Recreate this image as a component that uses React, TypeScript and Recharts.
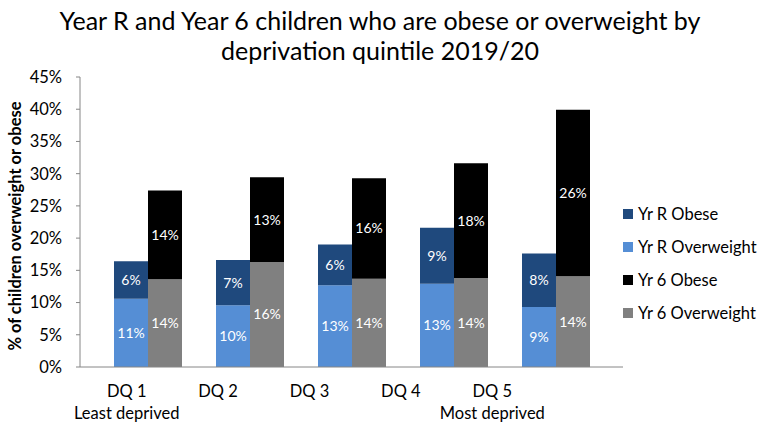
import React from 'react';
import { BarChart, Bar, XAxis, YAxis, LabelList } from 'recharts';

const quintiles = ['DQ 1', 'DQ 2', 'DQ 3', 'DQ 4', 'DQ 5'];
const subLabels = ['Least deprived', '', '', '', 'Most deprived'];
const yrROverweight = [10.6, 9.6, 12.7, 12.9, 9.3];
const yrRObese = [5.8, 7.0, 6.3, 8.7, 8.3];
const yr6Overweight = [13.6, 16.3, 13.7, 13.8, 14.1];
const yr6Obese = [13.8, 13.15, 15.6, 17.8, 25.8];
const yTicks = [0, 5, 10, 15, 20, 25, 30, 35, 40, 45];

const legendItems = [
  { name: 'Yr R Obese', color: '#1f497d' },
  { name: 'Yr R Overweight', color: '#558ed5' },
  { name: 'Yr 6 Obese', color: '#000000' },
  { name: 'Yr 6 Overweight', color: '#808080' },
];

const data = quintiles.map((dq, i) => ({
  dq,
  rOw: yrROverweight[i],
  rOb: yrRObese[i],
  sOw: yr6Overweight[i],
  sOb: yr6Obese[i],
}));

const font = 'Lato, "Open Sans", sans-serif';
const pct = (v: any) => `${Math.round(Number(v))}%`;

const QuintileTick = (props: any) => {
  const { x, y, payload, index } = props;
  const sub = subLabels[index];
  return (
    <g>
      <text x={x} y={y + 22} textAnchor="middle" fontSize={16.5} fill="#000" fontFamily={font}>
        {payload.value}
      </text>
      {sub ? (
        <text x={x} y={y + 44} textAnchor="middle" fontSize={16.5} fill="#000" fontFamily={font}>
          {sub}
        </text>
      ) : null}
    </g>
  );
};

const labelStyle = { fill: '#ffffff', fontSize: 14, fontFamily: font };

export default function App() {
  return (
    <div style={{ position: 'absolute', left: 0, top: 0, width: 760, height: 425, background: '#fff' }}>
      <div
        style={{
          position: 'absolute',
          left: 0,
          top: 5,
          width: 760,
          textAlign: 'center',
          fontFamily: font,
          fontSize: 25,
          lineHeight: '30px',
          color: '#000',
        }}
      >
        Year R and Year 6 children who are obese or overweight by
        <br />
        deprivation quintile 2019/20
      </div>
      <div style={{ position: 'absolute', left: 623, top: 197, fontFamily: font, fontSize: 16.5, color: '#000' }}>
        {legendItems.map((it) => (
          <div key={it.name} style={{ display: 'flex', alignItems: 'center', height: 33, whiteSpace: 'nowrap' }}>
            <span style={{ width: 10, height: 10, background: it.color, marginRight: 5, display: 'inline-block' }} />
            <span>{it.name}</span>
          </div>
        ))}
      </div>
      <BarChart
        width={760}
        height={425}
        data={data}
        margin={{ top: 77, right: 137, bottom: 0, left: 0 }}
        barGap={0}
        barSize={34}
        style={{ position: 'absolute', left: 0, top: 0 }}
      >
        <XAxis xAxisId="bars" dataKey="dq" hide orientation="top" height={0} padding={{ left: 17, right: 16 }} />
        <XAxis
          xAxisId="lbl"
          dataKey="dq"
          height={58}
          padding={{ left: 1, right: 85 }}
          axisLine={{ stroke: '#868686' }}
          tickLine={false}
          tick={<QuintileTick />}
          interval={0}
        />
        <YAxis
          width={80}
          domain={[0, 45]}
          ticks={yTicks}
          tickFormatter={(v) => `${v}%`}
          axisLine={{ stroke: '#868686' }}
          tickLine={{ stroke: '#868686' }}
          tickSize={4}
          tickMargin={14}
          tick={{ fontSize: 16.5, fill: '#000', fontFamily: font }}
          label={{
            value: '% of children overweight or obese',
            angle: -90,
            position: 'insideLeft',
            dx: 10,
            dy: 4,
            style: { textAnchor: 'middle', fontSize: 16.5, fontWeight: 'bold', fill: '#000', fontFamily: font },
          }}
        />
        <Bar xAxisId="bars" dataKey="rOw" stackId="r" fill="#558ed5" isAnimationActive={false}>
          <LabelList dataKey="rOw" position="center" formatter={pct} style={labelStyle} />
        </Bar>
        <Bar xAxisId="bars" dataKey="rOb" stackId="r" fill="#1f497d" isAnimationActive={false}>
          <LabelList dataKey="rOb" position="center" formatter={pct} style={labelStyle} />
        </Bar>
        <Bar xAxisId="bars" dataKey="sOw" stackId="s" fill="#808080" isAnimationActive={false}>
          <LabelList dataKey="sOw" position="center" formatter={pct} style={labelStyle} />
        </Bar>
        <Bar xAxisId="bars" dataKey="sOb" stackId="s" fill="#000000" isAnimationActive={false}>
          <LabelList dataKey="sOb" position="center" formatter={pct} style={labelStyle} />
        </Bar>
      </BarChart>
    </div>
  );
}
